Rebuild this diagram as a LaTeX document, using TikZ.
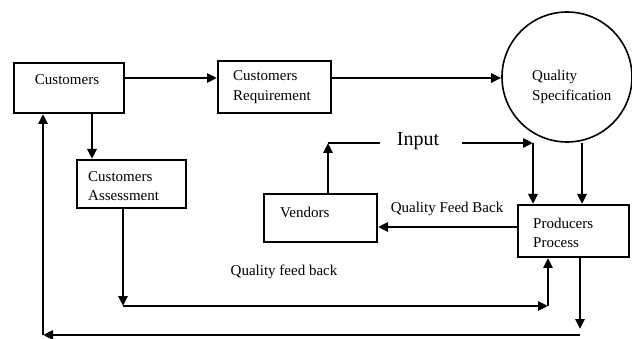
\documentclass[tikz,border=0pt]{standalone}
\usepackage{fontspec}
\setmainfont{Liberation Serif}
\usetikzlibrary{arrows.meta}
\begin{document}
\begin{tikzpicture}[x=1pt,y=-1pt,
  box/.style={draw, line width=2pt, rectangle, inner sep=0pt, anchor=north west},
  boxtext/.style={align=left, anchor=west, inner sep=0pt, font=\fontsize{15}{19.5}\selectfont},
  lbl/.style={inner sep=0pt, font=\fontsize{15}{19.5}\selectfont},
  flow/.style={line width=2.8pt, -{Triangle[length=10pt,width=9pt]}},
  plain/.style={line width=2.8pt}]
\useasboundingbox (0,0) rectangle (632,339);

% boxes
\node[box, minimum width=110pt, minimum height=50pt] (cust) at (13,62) {};
\node[lbl] (custtext) at (67,80) {Customers};
\node[box, minimum width=113pt, minimum height=52pt] (req) at (217,60) {};
\node[boxtext] (reqtext) at (233,87) {Customers\\Requirement};
\node[box, minimum width=109pt, minimum height=48pt] (assess) at (76,159) {};
\node[boxtext] (assesstext) at (88,186) {Customers\\Assessment};
\node[box, minimum width=113pt, minimum height=48pt] (vend) at (263,193) {};
\node[boxtext] (vendtext) at (280,212) {Vendors};
\node[box, minimum width=111pt, minimum height=52pt] (prod) at (517,204) {};
\node[boxtext] (prodtext) at (533,233) {Producers\\Process};

% specification circle
\node[draw, circle, line width=1.6pt, minimum size=130pt, inner sep=0pt] (spec) at (567,77) {};
\node[boxtext] (spectext) at (532,87) {Quality\\Specification};

% labels
\node[inner sep=0pt, font=\fontsize{20}{24}\selectfont] (input) at (418,141) {Input};
\node[lbl] (qfb) at (447,209) {Quality Feed Back};
\node[lbl] (qfb2) at (284,272) {Quality feed back};

% corner points
\coordinate (inA) at (328,143);
\coordinate (inGapA) at (380,143);
\coordinate (inGapB) at (462,143);
\coordinate (inB) at (533,143);
\coordinate (fbA) at (123,306);
\coordinate (fbB) at (548,306);
\coordinate (loA) at (580,329);
\coordinate (loB) at (580,335);
\coordinate (loC) at (43,335);

% main flow
\draw[flow] (cust.east |- 0,78) -- (req.west |- 0,78);
\draw[flow] (req.east |- 0,78) -- (spec.west |- 0,78);
\draw[flow] (cust.south -| 92,0) -- (assess.north -| 92,0);
\draw[flow] (spec.south -| 582,0) -- (prod.north -| 582,0);

% vendor input
\draw[flow] (vend.north -| inA) -- (inA);
\draw[plain] (inA) -- (inGapA);
\draw[flow] (inGapB) -- (inB);
\draw[flow] (inB) -- (prod.north -| inB);
\draw[flow] (prod.west |- 0,227) -- (vend.east |- 0,227);

% customer assessment feedback
\draw[flow] (assess.south -| fbA) -- (fbA);
\draw[flow] (fbA) -- (fbB);
\draw[flow] (fbB) -- (prod.south -| fbB);

% loop back to customers
\draw[flow] (prod.south -| loA) -- (loA);
\draw[flow] (loB) -- (loC);
\draw[flow] (loC) -- (cust.south -| loC);
\end{tikzpicture}
\end{document}
